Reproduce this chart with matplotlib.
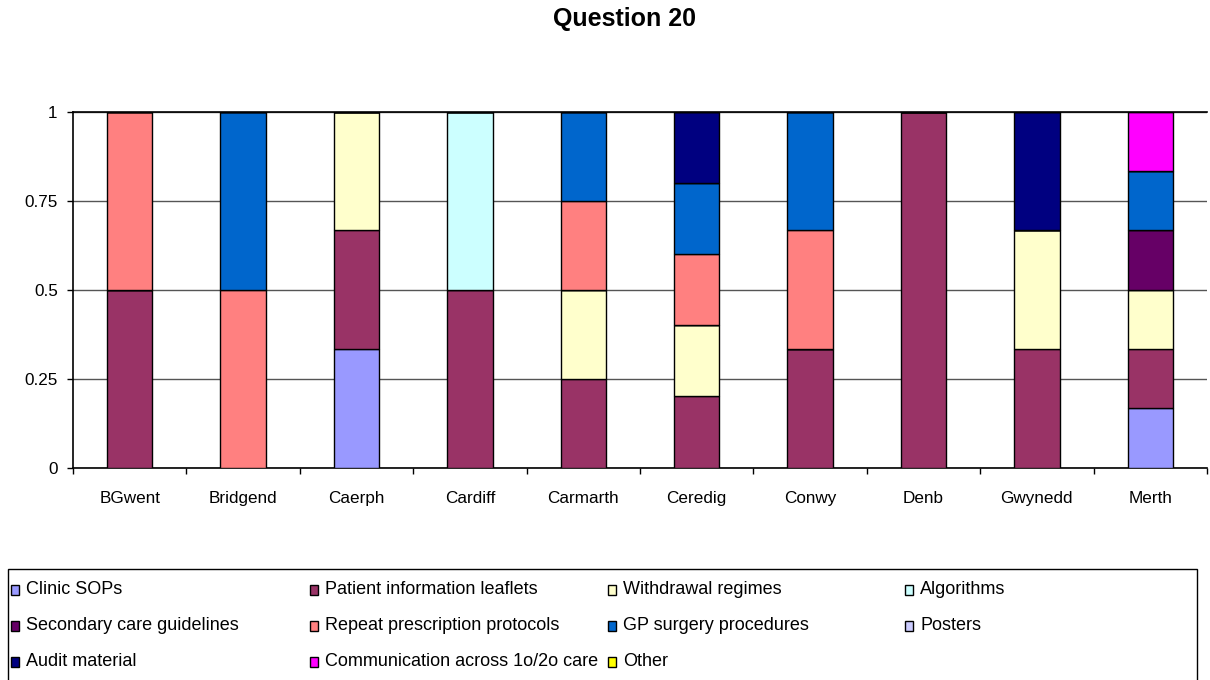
import numpy as np
import matplotlib.pyplot as plt
from matplotlib.patches import Rectangle

plt.rcParams['font.family'] = ['Liberation Sans', 'DejaVu Sans']

# Data: share of responses per area, stacked in legend order
areas = ['BGwent', 'Bridgend', 'Caerph', 'Cardiff', 'Carmarth',
         'Ceredig', 'Conwy', 'Denb', 'Gwynedd', 'Merth']

series_names = ['Clinic SOPs', 'Patient information leaflets', 'Withdrawal regimes',
                'Algorithms', 'Secondary care guidelines', 'Repeat prescription protocols',
                'GP surgery procedures', 'Posters', 'Audit material',
                'Communication across 1o/2o care', 'Other']

clinic_sops = [0, 0, 1/3, 0, 0, 0, 0, 0, 0, 1/6]
patient_leaflets = [0.5, 0, 1/3, 0.5, 0.25, 0.2, 1/3, 1, 1/3, 1/6]
withdrawal = [0, 0, 1/3, 0, 0.25, 0.2, 0, 0, 1/3, 1/6]
algorithms = [0, 0, 0, 0.5, 0, 0, 0, 0, 0, 0]
secondary_care = [0, 0, 0, 0, 0, 0, 0, 0, 0, 1/6]
repeat_prescription = [0.5, 0.5, 0, 0, 0.25, 0.2, 1/3, 0, 0, 0]
gp_surgery = [0, 0.5, 0, 0, 0.25, 0.2, 1/3, 0, 0, 1/6]
posters = [0, 0, 0, 0, 0, 0, 0, 0, 0, 0]
audit_material = [0, 0, 0, 0, 0, 0.2, 0, 0, 1/3, 0]
communication = [0, 0, 0, 0, 0, 0, 0, 0, 0, 1/6]
other = [0, 0, 0, 0, 0, 0, 0, 0, 0, 0]

series_values = [clinic_sops, patient_leaflets, withdrawal, algorithms, secondary_care,
                 repeat_prescription, gp_surgery, posters, audit_material,
                 communication, other]

colors = ['#9999FF', '#993366', '#FFFFCC', '#CCFFFF', '#660066', '#FF8080',
          '#0066CC', '#CCCCFF', '#000080', '#FF00FF', '#FFFF00']

fig = plt.figure(figsize=(12.1, 6.8), dpi=100)
ax = fig.add_axes([0.0603, 0.3125, 0.9372, 0.5235])

x = np.arange(len(areas))
bottom = np.zeros(len(areas))
for vals, col in zip(series_values, colors):
    vals = np.array(vals)
    ax.bar(x, vals, width=0.4, bottom=bottom, color=col, edgecolor='black',
           linewidth=1, zorder=3)
    bottom += vals

ax.set_xlim(-0.5, len(areas) - 0.5)
ax.set_ylim(0, 1)
ax.set_yticks([0, 0.25, 0.5, 0.75, 1])
ax.set_yticklabels(['0', '0.25', '0.5', '0.75', '1'])
ax.yaxis.grid(True, color='#555555', linewidth=1, zorder=0)

# category boundaries as major ticks, labels on minor ticks at centres
ax.set_xticks(np.arange(len(areas) + 1) - 0.5)
ax.set_xticklabels([])
ax.set_xticks(x, minor=True)
ax.set_xticklabels(areas, minor=True)
ax.tick_params(axis='x', which='major', length=4, width=1, direction='out')
ax.tick_params(axis='x', which='minor', length=0, pad=17, labelsize=12.3)
ax.tick_params(axis='y', length=4, width=1, direction='out', pad=7, labelsize=12.3)

ax.spines['right'].set_visible(False)
for side in ['left', 'bottom', 'top']:
    ax.spines[side].set_color('black')
    ax.spines[side].set_linewidth(1.2)

fig.text(0.516, 0.972, 'Question 20', ha='center', va='center',
         fontsize=18, fontweight='bold')

# Legend box (Excel style, fixed-width columns, row-major)
W, H = 1210, 680
fig.add_artist(Rectangle((8 / W, -0.05), 1189 / W, 0.05 + (H - 569) / H,
                         transform=fig.transFigure, facecolor='white',
                         edgecolor='black', linewidth=1))
col_x = [11, 310, 608, 905]
row_y = [590, 626, 662]
for i, (name, col) in enumerate(zip(series_names, colors)):
    r, c = divmod(i, 4)
    sx, sy = col_x[c], row_y[r]
    fig.add_artist(Rectangle((sx / W, (H - sy - 5) / H), 8 / W, 10 / H,
                             transform=fig.transFigure, facecolor=col,
                             edgecolor='black', linewidth=1))
    fig.text((sx + 15) / W, (H - sy) / H, name, ha='left', va='center', fontsize=13)

plt.savefig('out.png', dpi=100)
plt.close()
